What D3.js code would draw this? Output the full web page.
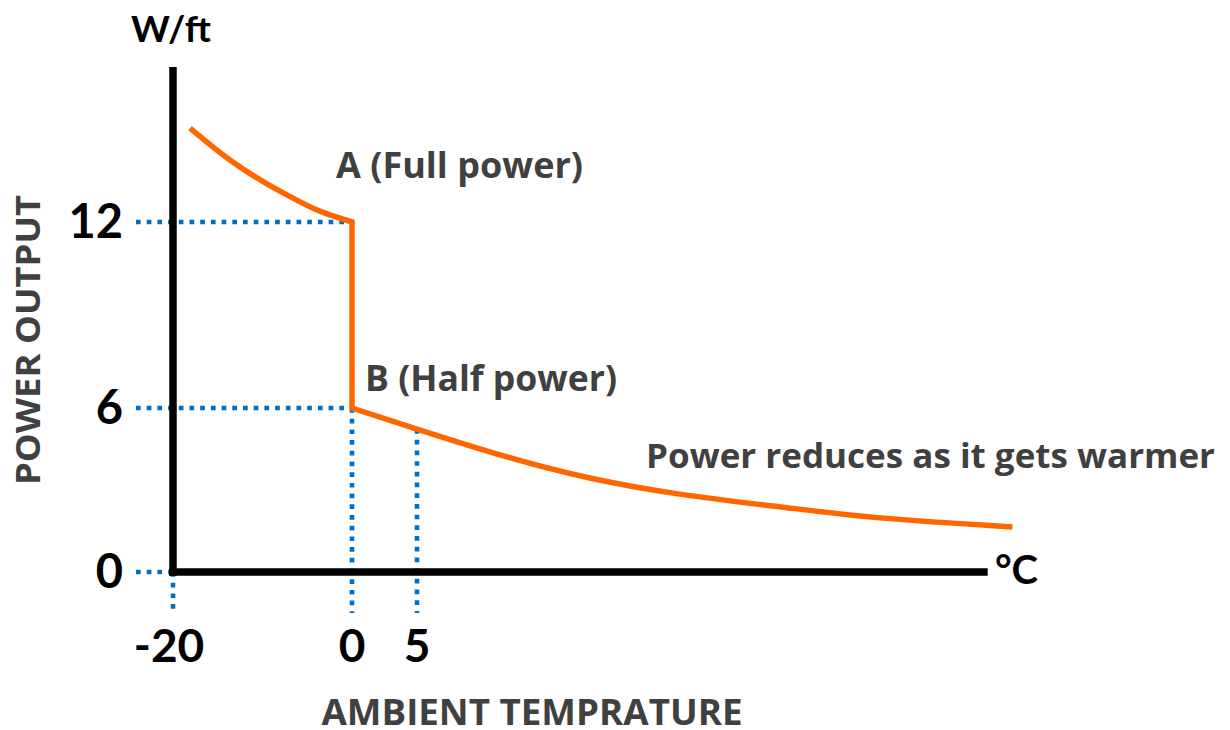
<!DOCTYPE html>
<meta charset="utf-8">
<script src="https://d3js.org/d3.v7.min.js"></script>
<style>
    body { margin: 0; background: #fff; }
    text { font-family: Lato, "Open Sans", sans-serif; font-weight: 700; }
    text.note { font-family: "Open Sans", Lato, sans-serif; }
</style>
<div id="chart"></div>
<script>
    // ticks on each axis (the picture's scale is not uniform, so piecewise)
    var xTicks = [-20, 0, 5];
    var yTicks = [0, 6, 12];
    var xMax = 48.9, yMax = 17;

    // power curve, cold side (above point A)
    var coldX = [-18.1, -15.1, -12.5, -9.5, -6.6, -3.6, 0];
    var coldY = [15.03, 14.32, 13.77, 13.23, 12.77, 12.35, 12];
    // power curve, warm side (from point B)
    var warmX = [0, 5, 12, 18.3, 25.2, 33, 40.6, 50.8];
    var warmY = [6, 5.23, 4.2, 3.44, 2.85, 2.38, 1.98, 1.65];

    var width = 1230, height = 730;
    var orange = "#ff6600", blue = "#0070c0", gray = "#404040";

    var svg = d3.select("#chart").append("svg")
        .attr("width", width)
        .attr("height", height);

    var x = d3.scaleLinear().domain(xTicks).range([173, 352, 417]);
    var y = d3.scaleLinear().domain(yTicks).range([572, 408, 222]);

    var cold = coldX.map(function (d, i) { return [d, coldY[i]]; });
    var warm = warmX.map(function (d, i) { return [d, warmY[i]]; });

    // dotted guides
    var guides = svg.append("g")
        .attr("stroke", blue)
        .attr("stroke-width", 4.6)
        .attr("stroke-dasharray", "4.7,6");

    yTicks.forEach(function (v) {
        guides.append("line")
            .attr("x1", x(-20) - 37).attr("x2", v === 0 ? x(-20) : x(0))
            .attr("y1", y(v)).attr("y2", y(v));
    });
    guides.append("line")
        .attr("x1", x(-20)).attr("x2", x(-20))
        .attr("y1", y(0)).attr("y2", y(0) + 41);
    guides.append("line")
        .attr("x1", x(0)).attr("x2", x(0))
        .attr("y1", y(6)).attr("y2", y(0) + 41);
    guides.append("line")
        .attr("x1", x(5)).attr("x2", x(5))
        .attr("y1", y(warmY[1])).attr("y2", y(0) + 41);

    // axes
    svg.append("line")
        .attr("x1", x(-20)).attr("x2", x(-20))
        .attr("y1", y(yMax)).attr("y2", y(0) + 3.7)
        .attr("stroke", "#000").attr("stroke-width", 7.5);
    svg.append("line")
        .attr("x1", x(-20) - 3.7).attr("x2", x(xMax))
        .attr("y1", y(0)).attr("y2", y(0))
        .attr("stroke", "#000").attr("stroke-width", 7.5);

    // curve: cold part, drop from A to B, warm part
    var line = d3.line()
        .x(function (d) { return x(d[0]); })
        .y(function (d) { return y(d[1]); })
        .curve(d3.curveNatural);
    svg.append("path")
        .attr("d", line(cold) + line(warm).replace(/^M/, "L"))
        .attr("fill", "none")
        .attr("stroke", orange)
        .attr("stroke-width", 5.5)
        .attr("stroke-linejoin", "miter");

    // tick labels
    svg.selectAll(".ytick")
        .data(yTicks)
        .enter().append("text")
        .attr("x", 123)
        .attr("y", function (d) { return y(d) + 16; })
        .attr("text-anchor", "end")
        .attr("font-size", 47)
        .attr("fill", "#000")
        .text(function (d) { return d; });

    svg.selectAll(".xtick")
        .data(xTicks)
        .enter().append("text")
        .attr("x", function (d) { return x(d) - (d < 0 ? 4 : 0); })
        .attr("y", 662)
        .attr("text-anchor", "middle")
        .attr("font-size", 46)
        .attr("fill", "#000")
        .text(function (d) { return d; });

    // unit labels
    svg.append("text")
        .attr("x", 171).attr("y", 42)
        .attr("text-anchor", "middle")
        .attr("font-size", 37)
        .attr("fill", "#000")
        .text("W/ft");
    svg.append("text")
        .attr("x", 995).attr("y", 584)
        .attr("font-size", 40)
        .attr("fill", "#000")
        .text("°C");

    // axis titles
    svg.append("text")
        .attr("class", "note")
        .attr("transform", "translate(40,340) rotate(-90)")
        .attr("text-anchor", "middle")
        .attr("font-size", 34)
        .attr("fill", gray)
        .attr("textLength", 290)
        .attr("lengthAdjust", "spacingAndGlyphs")
        .text("POWER OUTPUT");
    svg.append("text")
        .attr("class", "note")
        .attr("x", 532).attr("y", 725)
        .attr("text-anchor", "middle")
        .attr("font-size", 36)
        .attr("fill", gray)
        .attr("textLength", 421)
        .attr("lengthAdjust", "spacingAndGlyphs")
        .text("AMBIENT TEMPRATURE");

    // annotations
    svg.append("text")
        .attr("class", "note")
        .attr("x", 336).attr("y", 178)
        .attr("font-size", 35)
        .attr("fill", gray)
        .attr("textLength", 247)
        .attr("lengthAdjust", "spacingAndGlyphs")
        .text("A (Full power)");
    svg.append("text")
        .attr("class", "note")
        .attr("x", 365).attr("y", 391)
        .attr("font-size", 35)
        .attr("fill", gray)
        .attr("textLength", 252)
        .attr("lengthAdjust", "spacingAndGlyphs")
        .text("B (Half power)");
    svg.append("text")
        .attr("class", "note")
        .attr("x", 646).attr("y", 468)
        .attr("font-size", 34)
        .attr("fill", gray)
        .attr("textLength", 569)
        .attr("lengthAdjust", "spacingAndGlyphs")
        .text("Power reduces as it gets warmer");
</script>
